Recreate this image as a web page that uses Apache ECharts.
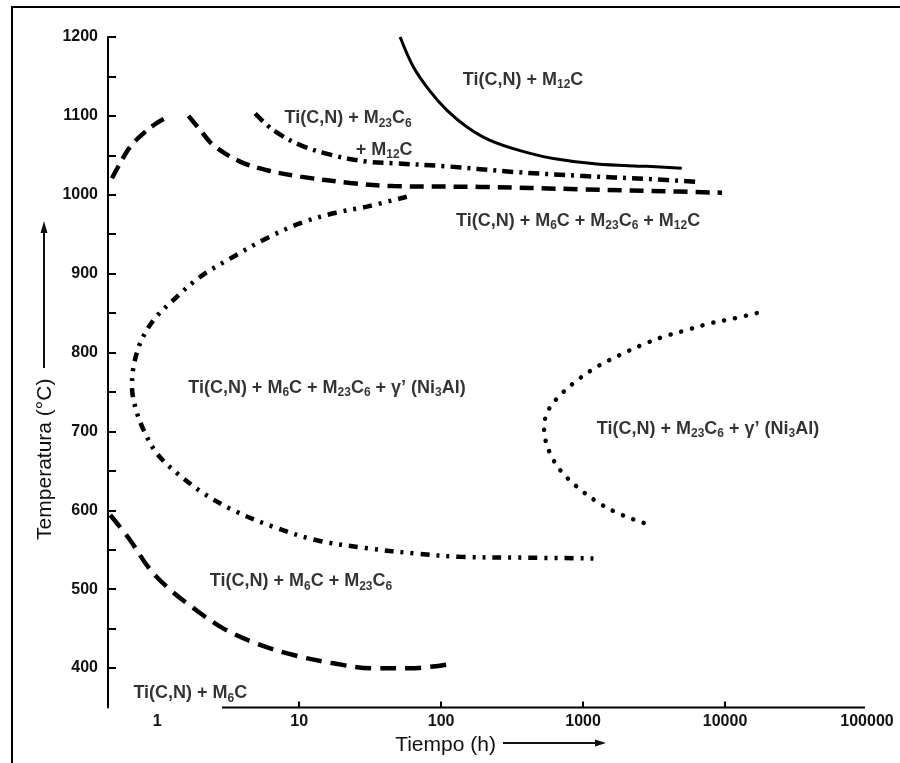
<!DOCTYPE html>
<html>
<head>
<meta charset="utf-8">
<script src="https://cdn.jsdelivr.net/npm/echarts@6.0.0/dist/echarts.min.js"></script>
<style>
html,body{margin:0;padding:0;background:#fff;}
#chart{width:900px;height:763px;}
</style>
</head>
<body>
<div id="chart"></div>
<script>
// ---- data (time in h, temperature in °C) ----
const timeLabels = [1, 10, 100, 1000, 10000, 100000];
const timeTicks = [10, 100, 1000, 10000];
const tempLabels = [400, 500, 600, 700, 800, 900, 1000, 1100, 1200];
const tempTicks = [400, 450, 500, 550, 600, 650, 700, 750, 800, 850, 900, 950, 1000, 1050, 1100, 1150, 1200];
const timeRange = [0.45, 100000];
const tempRange = [350, 1200];
const xAxisLineSpan = [[2.86, 350], [96800, 350]];

// solid: Ti(C,N)+M12C boundary
const curveM12C = [[51.4,1200],[63.8,1162],[83.7,1131],[110,1107],[152,1086],[221,1069],[360,1056],[618,1046],[1248,1039],[2810,1036],[4955,1033.5]];
// dash-dot: upper M23C6 boundary
const curveM23C6Upper = [[4.9,1103],[6.56,1082],[10.2,1063],[17.3,1050],[30.1,1042],[45.9,1040],[110,1036],[321,1029],[953,1024],[2823,1020],[6350,1016.5]];
// long dashes: M6C upper boundary (two branches)
const curveM6CUpper = [[0.48,1021],[0.548,1040],[0.645,1061],[0.801,1078],[0.995,1091],[1.17,1098],null,[1.66,1100],[2.01,1082],[2.48,1063],[3.84,1042],[5.95,1031],[10.2,1023],[22.9,1015],[45.9,1011],[188,1010],[953,1007],[4820,1004],[9530,1002.6]];
// dash-dot-dot: M6C C-curve
const curveM6CNose = [[57.3,997.5],[30,985],[17.4,976.5],[10.2,964],[5.92,945],[3.44,921.5],[2.01,896],[1.3,866.6],[0.942,841],[0.759,812],[0.681,782],[0.664,757],[0.7,731],[0.801,702],[0.995,672],[1.38,647],[2.12,621.5],[3.44,600],[6.59,579],[13.3,562],[30,552],[67.4,545],[136,541],[360,540],[1183,539]];
// dotted: gamma prime C-curve
const curveGammaPrime = [[16720,850],[11430,843],[7830,837],[5370,828.5],[3675,820],[2588,809.5],[1822,797],[1282,783],[927,766],[689,746],[570,727],[531,706],[540,691],[586,672],[689,651],[903,630],[1248,611],[1726,597],[2518,585.5],[3048,581]];
// dashes: M23C6 lower boundary
const curveM23C6Lower = [[0.467,594],[0.645,562],[0.865,528],[1.17,503],[1.8,476],[2.93,450],[5.03,431],[9.12,416.5],[17.4,406],[33.4,399.6],[60.5,399.6],[112,404.7]];

// region labels: [time, temperature, text]
const regionLabels = [
  [378, 1145.5, 'Ti(C,N) + M{s|12}C'],
  [22.1, 1097, 'Ti(C,N) + M{s|23}C{s|6}'],
  [39.7, 1057, '+ M{s|12}C'],
  [922, 967, 'Ti(C,N) + M{s|6}C + M{s|23}C{s|6} + M{s|12}C'],
  [15.7, 755, 'Ti(C,N) + M{s|6}C + M{s|23}C{s|6} + γ’ (Ni{s|3}Al)'],
  [7590, 703, 'Ti(C,N) + M{s|23}C{s|6} + γ’ (Ni{s|3}Al)'],
  [10.3, 510, 'Ti(C,N) + M{s|6}C + M{s|23}C{s|6}'],
  [1.71, 368, 'Ti(C,N) + M{s|6}C']
];

const chart = echarts.init(document.getElementById('chart'));
const ink = '#111';
const tickFont = {color: ink, fontFamily: 'Liberation Sans', fontWeight: 'bold', fontSize: 16};

function curve(name, data, width, dash, cap) {
  return {
    name: name, type: 'line', data: data, smooth: 0.35, showSymbol: false, symbol: 'none',
    connectNulls: false, clip: false, silent: true,
    lineStyle: {color: '#000', width: width, type: dash, cap: cap || 'butt'}
  };
}

chart.setOption({
  animation: false,
  backgroundColor: '#fff',
  grid: {left: 108, right: 33, top: 37, bottom: 55.5},
  xAxis: {
    type: 'log', logBase: 10, min: timeRange[0], max: timeRange[1],
    name: 'Tiempo (h)', nameLocation: 'middle', nameGap: 25,
    nameTextStyle: {color: ink, fontFamily: 'Liberation Sans', fontSize: 21, padding: [0, 84, 0, 0]},
    axisLine: {show: false},
    axisTick: {show: true, inside: true, length: 6, customValues: timeTicks, lineStyle: {color: '#000', width: 2}},
    axisLabel: Object.assign({customValues: timeLabels, margin: 6, formatter: v => String(Math.round(v))}, tickFont),
    splitLine: {show: false}, minorTick: {show: false}
  },
  yAxis: {
    type: 'value', min: tempRange[0], max: tempRange[1], interval: 50,
    name: 'Temperatura (°C)', nameLocation: 'middle', nameGap: 52, nameRotate: 90, nameMoveOverlap: false,
    nameTextStyle: {color: ink, fontFamily: 'Liberation Sans', fontSize: 21, padding: [0, 174, 0, 0]},
    axisLine: {show: true, lineStyle: {color: '#000', width: 2}},
    axisTick: {show: true, inside: true, length: 8, customValues: tempTicks, lineStyle: {color: '#000', width: 2}},
    axisLabel: Object.assign({customValues: tempLabels, margin: 10, formatter: v => String(Math.round(v))}, tickFont),
    splitLine: {show: false}
  },
  graphic: [
    {type: 'polyline', shape: {points: [[12, 763], [12, 7], [900, 7]]}, style: {stroke: '#000', lineWidth: 2, fill: null}},
    {type: 'line', shape: {x1: 44, y1: 368, x2: 44, y2: 230}, style: {stroke: ink, lineWidth: 2}},
    {type: 'polygon', shape: {points: [[44, 221], [40.5, 233], [47.5, 233]]}, style: {fill: ink}},
    {type: 'line', shape: {x1: 503, y1: 743, x2: 597, y2: 743}, style: {stroke: ink, lineWidth: 2}},
    {type: 'polygon', shape: {points: [[606, 743], [595, 739.5], [595, 746.5]]}, style: {fill: ink}}
  ],
  series: [
    {type: 'line', name: 'axis', data: xAxisLineSpan, showSymbol: false, symbol: 'none', clip: false, silent: true,
     lineStyle: {color: '#000', width: 2}},
    curve('Ti(C,N)+M12C', curveM12C, 3, 'solid'),
    curve('M23C6 sup', curveM23C6Upper, 4.5, [11, 6, 3, 6]),
    curve('M6C sup', curveM6CUpper, 4.5, [14, 8]),
    curve('M6C nariz', curveM6CNose, 4.5, [9, 7, 3, 7, 3, 7]),
    curve('gamma', curveGammaPrime, 4.5, [0.1, 11], 'round'),
    curve('M23C6 inf', curveM23C6Lower, 4.5, [16, 9]),
    {
      type: 'scatter', name: 'labels', silent: true, symbolSize: 0,
      data: regionLabels.map(r => ({value: [r[0], r[1]], text: r[2]})),
      label: {
        show: true, position: 'inside', align: 'center', verticalAlign: 'middle',
        formatter: p => p.data.text,
        color: '#000', fontFamily: 'Liberation Sans', fontWeight: 'bold', fontSize: 18, lineHeight: 22,
        rich: {s: {color: '#000', fontFamily: 'Liberation Sans', fontWeight: 'bold', fontSize: 12, lineHeight: 12, verticalAlign: 'bottom'}}
      }
    }
  ]
});
</script>
</body>
</html>
